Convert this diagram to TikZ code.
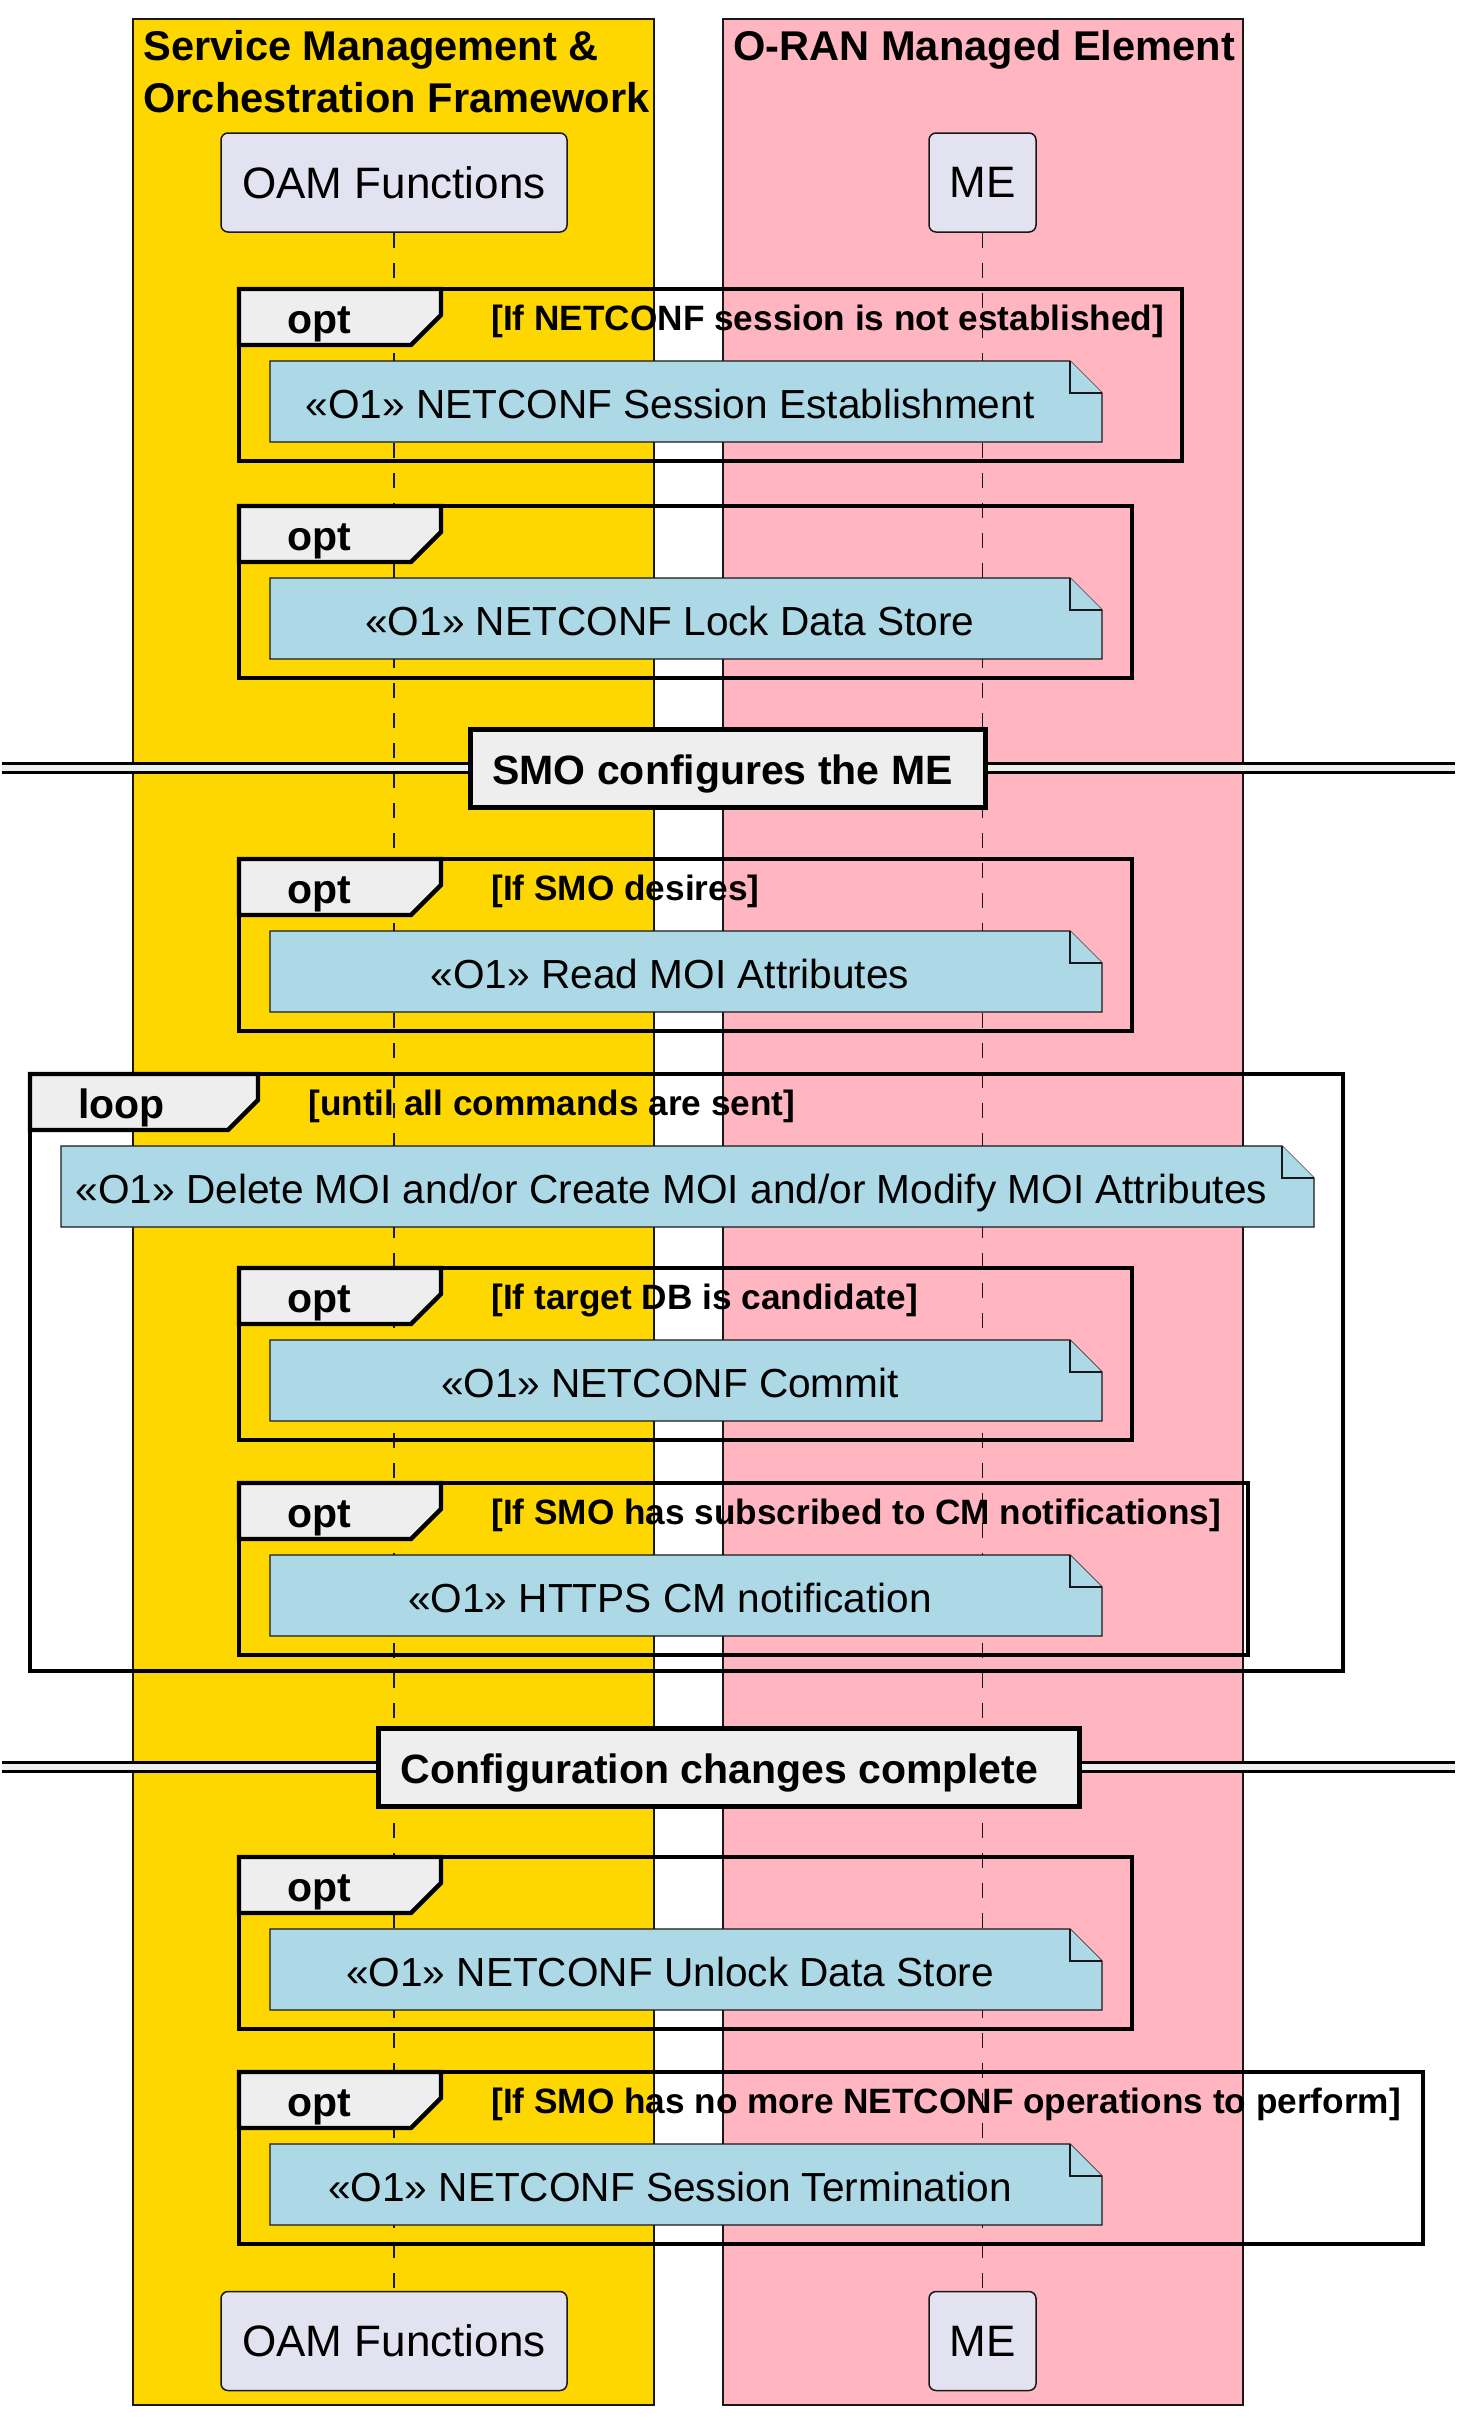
\documentclass[tikz,border=0pt]{standalone}
\usepackage{fontspec}
\setmainfont{Liberation Sans}
\usetikzlibrary{calc,positioning}
\definecolor{LaneGold}{HTML}{FFD700}
\definecolor{LanePink}{HTML}{FFB6C1}
\definecolor{PartBlue}{HTML}{E2E2F0}
\definecolor{NoteBlue}{HTML}{ADD8E6}
\definecolor{TabGray}{HTML}{EEEEEE}
\definecolor{InkDark}{HTML}{181818}
\tikzstyle{lane} = [draw=InkDark, line width=0.6pt]
\tikzstyle{part} = [rectangle, rounded corners=3.5pt, draw=InkDark, line width=0.75pt, fill=PartBlue, minimum height=49.5pt, inner sep=0pt, font=\fontsize{22}{26}\selectfont]
\tikzstyle{life} = [draw=InkDark, line width=0.75pt, dash pattern=on 7.5pt off 7.5pt]
\tikzstyle{frag} = [draw=black, line width=2.2pt, line join=miter]
\tikzstyle{notebody} = [draw=InkDark, line width=0.7pt, fill=NoteBlue, line join=miter]
\tikzstyle{notetxt} = [inner sep=0pt, anchor=base, font=\fontsize{20.3}{24}\selectfont]
\tikzstyle{boldbig} = [inner sep=0pt, anchor=base west, font=\bfseries\fontsize{20.5}{25.5}\selectfont]
\tikzstyle{lanetitle} = [inner sep=0pt, anchor=base west, font=\bfseries\fontsize{20.8}{25.5}\selectfont]
\tikzstyle{cond} = [inner sep=0pt, anchor=base west, font=\bfseries\fontsize{17.6}{20}\selectfont]
% frame: name, kind, left, top, right, bottom, tab width, guard
\newcommand{\fragment}[8]{%
  \draw[frag] (#3,#4) rectangle (#5,#6);
  \draw[frag, fill=TabGray] (#3,#4) -- ++(#7,0) -- ++(0,26) -- ++(-30,30) -- (#3,{#4+56}) -- cycle;
  \node[boldbig] (#1) at ({#3+48},{#4+44}) {#2};
  \node[cond] (#1g) at ({#3+#7+50},{#4+41}) {#8};
}
% note: name, left, top, right, text
\newcommand{\notebox}[5]{%
  \draw[notebody] (#2,#3) -- ({#4-32},#3) -- (#4,{#3+32}) -- (#4,{#3+81}) -- (#2,{#3+81}) -- cycle;
  \draw[notebody] ({#4-32},#3) -- ({#4-32},{#3+32}) -- (#4,{#3+32});
  \node[notetxt] (#1) at ({(#2+#4-32)/2},{#3+57}) {#5};
}
% divider: name, line y, box left, box right, box top, text
\newcommand{\divider}[6]{%
  \fill[TabGray] (2,{#2-4.5}) rectangle (1455,{#2+4.5});
  \draw[line width=1.5pt] (2,{#2-4.5}) -- (1455,{#2-4.5}) (2,{#2+4.5}) -- (1455,{#2+4.5});
  \draw[line width=2.5pt, fill=TabGray] (#3,#5) rectangle (#4,{#5+78});
  \node[boldbig] (#1) at ({#3+22},{#5+55}) {#6};
}

\begin{document}
\begin{tikzpicture}[x=0.5pt,y=-0.5pt]
\useasboundingbox (0,0) rectangle (1477,2425);
% swim lanes
\draw[lane, fill=LaneGold] (133,19) rectangle (654,2405);
\draw[lane, fill=LanePink] (723,19) rectangle (1243,2405);
\node[lanetitle] (smoa) at (143,61) {Service Management \&};
\node[lanetitle] (smob) at (143,112) {Orchestration Framework};
\node[lanetitle] (oran) at (733,61) {O-RAN Managed Element};
% participants
\node[part, minimum width=173pt] (oamtop) at (394,182.5) {OAM Functions};
\node[part, minimum width=53.5pt] (metop) at (982.5,182.5) {ME};
\node[part, minimum width=173pt] (oambot) at (394,2341) {OAM Functions};
\node[part, minimum width=53.5pt] (mebot) at (982.5,2341) {ME};
\draw[life] (oamtop.south) -- (oambot.north);
\draw[life] (metop.south) -- (mebot.north);
% session set-up
\fragment{optone}{opt}{239}{289}{1182}{461}{202}{[If NETCONF session is not established]}
\notebox{noteone}{270}{361}{1102}{«O1» NETCONF Session Establishment}
\fragment{opttwo}{opt}{239}{506}{1132}{678}{202}{}
\notebox{notetwo}{270}{578}{1102}{«O1» NETCONF Lock Data Store}
\divider{divone}{767.5}{470}{985}{729}{SMO configures the ME}
\fragment{optthree}{opt}{239}{859}{1132}{1031}{202}{[If SMO desires]}
\notebox{notethree}{270}{931}{1102}{«O1» Read MOI Attributes}
% loop
\fragment{loopone}{loop}{30}{1074}{1343}{1671}{228}{[until all commands are sent]}
\notebox{notefour}{61}{1146}{1314}{«O1» Delete MOI and/or Create MOI and/or Modify MOI Attributes}
\fragment{optfour}{opt}{239}{1268}{1132}{1440}{202}{[If target DB is candidate]}
\notebox{notefive}{270}{1340}{1102}{«O1» NETCONF Commit}
\fragment{optfive}{opt}{239}{1483}{1248}{1655}{202}{[If SMO has subscribed to CM notifications]}
\notebox{notesix}{270}{1555}{1102}{«O1» HTTPS CM notification}
\divider{divtwo}{1766.5}{378}{1079}{1728}{Configuration changes complete}
% tear-down
\fragment{optsix}{opt}{239}{1857}{1132}{2029}{202}{}
\notebox{noteseven}{270}{1929}{1102}{«O1» NETCONF Unlock Data Store}
\fragment{optseven}{opt}{239}{2072}{1423}{2244}{202}{[If SMO has no more NETCONF operations to perform]}
\notebox{noteeight}{270}{2144}{1102}{«O1» NETCONF Session Termination}
\end{tikzpicture}
\end{document}
